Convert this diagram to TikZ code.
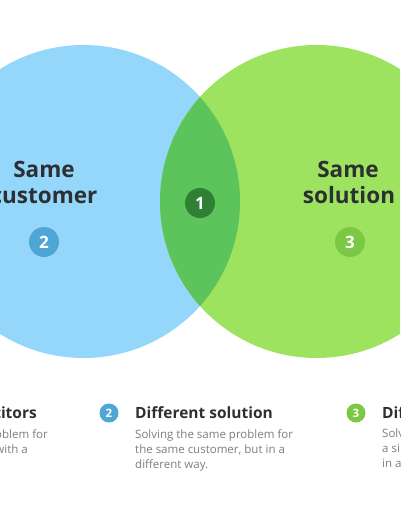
\documentclass[tikz,border=0pt]{standalone}
\usepackage{fontspec}
\setmainfont{Open Sans}
\usetikzlibrary{positioning}
\definecolor{skyfill}{RGB}{149,214,251}
\definecolor{limefill}{RGB}{157,227,96}
\definecolor{lensfill}{RGB}{92,196,90}
\definecolor{badgeone}{RGB}{47,127,52}
\definecolor{badgetwo}{RGB}{78,166,213}
\definecolor{badgethree}{RGB}{122,200,68}
\definecolor{inkdark}{RGB}{44,48,50}
\definecolor{inkgrey}{RGB}{125,125,125}

\begin{document}
\begin{tikzpicture}[x=1pt, y=-1pt,
    big/.style={font=\fontsize{22.5}{22.5}\selectfont\bfseries, text=inkdark,
                inner sep=0pt, anchor=base},
    badge/.style={circle, fill=#1, text=white, minimum size=30pt,
                  inner sep=0pt, font=\fontsize{17}{17}\selectfont\bfseries},
    dot/.style={circle, fill=#1, text=white, minimum size=19pt,
                inner sep=0pt, font=\fontsize{11.5}{11.5}\selectfont\bfseries},
    head/.style={font=\fontsize{15.5}{15.5}\selectfont\bfseries, text=inkdark,
                 inner sep=0pt},
    body/.style={font=\fontsize{11.5}{15}\selectfont, text=inkgrey,
                 inner sep=0pt, align=left}
  ]
    \useasboundingbox (0,0) rectangle (400,516);
    \clip (0,0) rectangle (400,516);
    % the two sets and their overlap
    \fill[skyfill] (83.5,201.5) circle[radius=156.5pt];
    \fill[limefill] (316.5,201.5) circle[radius=156.5pt];
    \begin{scope}
      \clip (83.5,201.5) circle[radius=156.5pt];
      \fill[lensfill] (316.5,201.5) circle[radius=156.5pt];
    \end{scope}
    % labels inside the circles
    \node[big] (sc1) at (44,177) {Same};
    \node[big] (sc2) at (44,203) {customer};
    \node[big] (ss1) at (348,177) {Same};
    \node[big] (ss2) at (349,203) {solution};
    \node[badge=badgeone] (b1) at (200,203) {1};
    \node[badge=badgetwo] (b2) at (44,242) {2};
    \node[badge=badgethree] (b3) at (350,242) {3};
    % legend row
    \node[head, anchor=base east] (t1) at (37,418) {titors};
    \node[body, anchor=base east] (d1a) at (48,438) {oblem for};
    \node[body, anchor=base east] (d1b) at (28,453) {with a};
    \node[dot=badgetwo] (s2) at (109,413) {2};
    \node[head, anchor=base west] (t2) at (135,418) {Different solution};
    \node[body, anchor=north west] (d2) at (135,429)
      {Solving the same problem for\\the same customer, but in a\\different way.};
    \node[dot=badgethree] (s3) at (356,413) {3};
    \node[head, anchor=base west] (t3) at (382,418) {Dif};
    \node[body, anchor=north west] (d3) at (382,429) {Solv\\a si\\in a};
  \end{tikzpicture}
\end{document}
